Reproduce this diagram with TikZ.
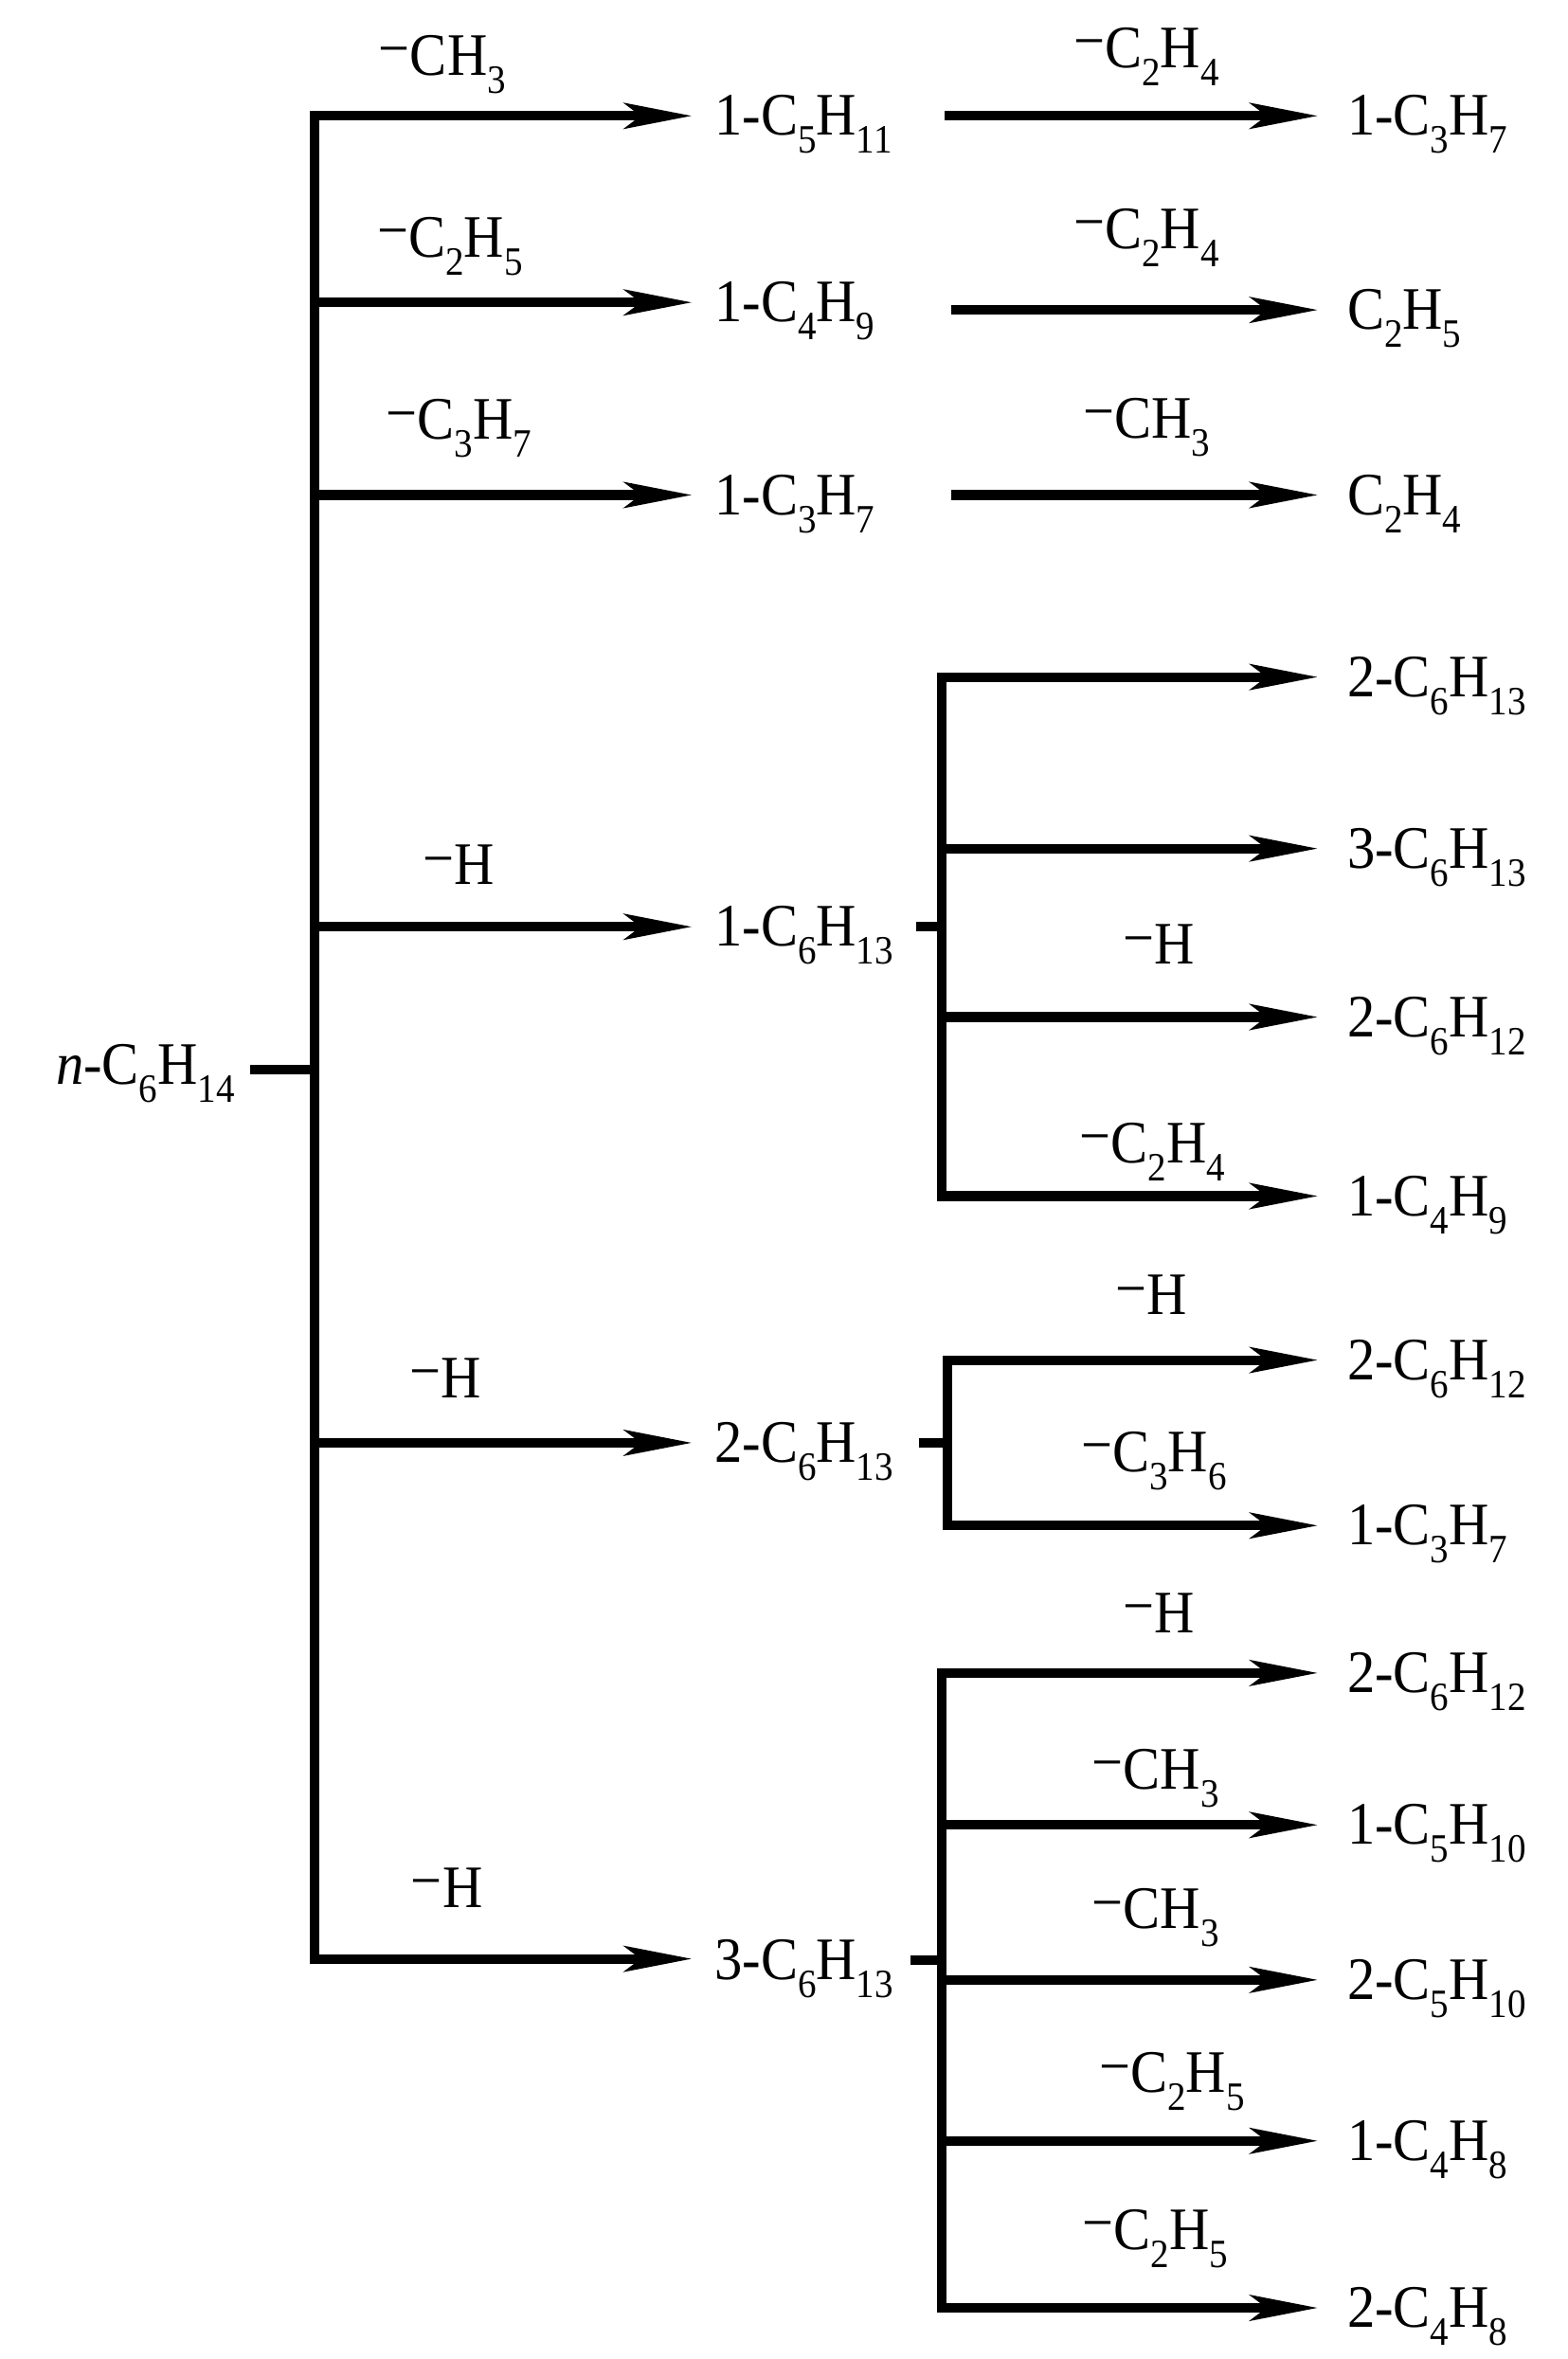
\documentclass[tikz,border=0pt]{standalone}
\usepackage{fontspec}
\setmainfont{Liberation Serif}[FakeStretch=0.92]
\usetikzlibrary{arrows.meta,positioning}
\newcommand{\dn}[1]{\raisebox{-3.4pt}{\fontsize{7.6}{8}\selectfont #1}}
\newcommand{\mi}{\raisebox{1.2pt}{−}}

\begin{document}
\begin{tikzpicture}[x=0.01cm,y=-0.01cm,>={Stealth[length=4.5mm,width=1.7mm,inset=1.1mm]},
		mol/.style={anchor=base west,inner sep=0pt,outer xsep=1.5mm,font=\fontsize{11.4}{12}\selectfont},
		prod/.style={mol,outer xsep=1.95mm},
		loss/.style={anchor=base,inner sep=0pt,font=\fontsize{11.4}{12}\selectfont},
		bond/.style={line width=1.8pt}]
		\useasboundingbox (0,0) rectangle (1042,1568);

		% parent and first generation
		\node[mol,anchor=base east,outer xsep=1mm] (nhex) at (166,721) {\textit{n}-C\dn{6}H\dn{14}};
		\node[mol]  (pent)  at (460,90)   {1-C\dn{5}H\dn{11}};
		\node[mol]  (but)   at (460,214)  {1-C\dn{4}H\dn{9}};
		\node[mol]  (prop)  at (460,342)  {1-C\dn{3}H\dn{7}};
		\node[mol]  (hexa)  at (460,629)  {1-C\dn{6}H\dn{13}};
		\node[mol]  (hexb)  at (460,972)  {2-C\dn{6}H\dn{13}};
		\node[mol]  (hexc)  at (460,1316) {3-C\dn{6}H\dn{13}};

		\coordinate (j0) at (209,711);
		\coordinate (j1) at (209,77);
		\coordinate (j2) at (209,201);
		\coordinate (j3) at (209,329);
		\coordinate (j4) at (209,616);
		\coordinate (j5) at (209,959);
		\coordinate (j6) at (209,1302);

		\draw[bond] (nhex.east |- j0) -- (j0);
		\draw[bond,<->] (j1 -| pent.west) -- (j1) -- (j6) -- (j6 -| hexc.west);
		\draw[bond,->] (j2) -- (j2 -| but.west);
		\draw[bond,->] (j3) -- (j3 -| prop.west);
		\draw[bond,->] (j4) -- (j4 -| hexa.west);
		\draw[bond,->] (j5) -- (j5 -| hexb.west);

		\node[loss] (l1) at (294,50)   {\mi CH\dn{3}};
		\node[loss] (l2) at (299,171)  {\mi C\dn{2}H\dn{5}};
		\node[loss] (l3) at (305,292)  {\mi C\dn{3}H\dn{7}};
		\node[loss] (l4) at (305,588)  {\mi H};
		\node[loss] (l5) at (296,929)  {\mi H};
		\node[loss] (l6) at (297,1268) {\mi H};

		% simple decompositions
		\node[prod] (pr1) at (876,90)  {1-C\dn{3}H\dn{7}};
		\node[prod] (pr2) at (876,219) {C\dn{2}H\dn{5}};
		\node[prod] (pr3) at (876,342) {C\dn{2}H\dn{4}};
		\coordinate (a1) at (628,77);
		\coordinate (a2) at (632,206);
		\coordinate (a3) at (632,329);
		\draw[bond,->] (a1) -- (a1 -| pr1.west);
		\draw[bond,->] (a2) -- (a2 -| pr2.west);
		\draw[bond,->] (a3) -- (a3 -| pr3.west);
		\node[loss] at (762,45)  {\mi C\dn{2}H\dn{4}};
		\node[loss] at (762,165) {\mi C\dn{2}H\dn{4}};
		\node[loss] at (762,291) {\mi CH\dn{3}};

		% 1-C6H13
		\node[prod] (qa1) at (876,463) {2-C\dn{6}H\dn{13}};
		\node[prod] (qa2) at (876,577) {3-C\dn{6}H\dn{13}};
		\node[prod] (qa3) at (876,689) {2-C\dn{6}H\dn{12}};
		\node[prod] (qa4) at (876,808) {1-C\dn{4}H\dn{9}};
		\coordinate (sa) at (609,616);
		\coordinate (ka0) at (626,616);
		\coordinate (ka1) at (626,450);
		\coordinate (ka2) at (626,564);
		\coordinate (ka3) at (626,676);
		\coordinate (ka4) at (626,795);
		\draw[bond] (sa) -- (ka0);
		\draw[bond,<->] (ka1 -| qa1.west) -- (ka1) -- (ka4) -- (ka4 -| qa4.west);
		\draw[bond,->] (ka2) -- (ka2 -| qa2.west);
		\draw[bond,->] (ka3) -- (ka3 -| qa3.west);
		\node[loss] at (770,641) {\mi H};
		\node[loss] at (766,773) {\mi C\dn{2}H\dn{4}};

		% 2-C6H13
		\node[prod] (qb1) at (876,917)  {2-C\dn{6}H\dn{12}};
		\node[prod] (qb2) at (876,1027) {1-C\dn{3}H\dn{7}};
		\coordinate (sb) at (611,959);
		\coordinate (kb0) at (630,959);
		\coordinate (kb1) at (630,904);
		\coordinate (kb2) at (630,1014);
		\draw[bond] (sb) -- (kb0);
		\draw[bond,<->] (kb1 -| qb1.west) -- (kb1) -- (kb2) -- (kb2 -| qb2.west);
		\node[loss] at (765,874) {\mi H};
		\node[loss] at (767,978) {\mi C\dn{3}H\dn{6}};

		% 3-C6H13
		\node[prod] (qc1) at (876,1125) {2-C\dn{6}H\dn{12}};
		\node[prod] (qc2) at (876,1226) {1-C\dn{5}H\dn{10}};
		\node[prod] (qc3) at (876,1329) {2-C\dn{5}H\dn{10}};
		\node[prod] (qc4) at (876,1436) {1-C\dn{4}H\dn{8}};
		\node[prod] (qc5) at (876,1547) {2-C\dn{4}H\dn{8}};
		\coordinate (sc) at (605,1303);
		\coordinate (kc0) at (626,1303);
		\coordinate (kc1) at (626,1112);
		\coordinate (kc2) at (626,1213);
		\coordinate (kc3) at (626,1316);
		\coordinate (kc4) at (626,1423);
		\coordinate (kc5) at (626,1534);
		\draw[bond] (sc) -- (kc0);
		\draw[bond,<->] (kc1 -| qc1.west) -- (kc1) -- (kc5) -- (kc5 -| qc5.west);
		\draw[bond,->] (kc2) -- (kc2 -| qc2.west);
		\draw[bond,->] (kc3) -- (kc3 -| qc3.west);
		\draw[bond,->] (kc4) -- (kc4 -| qc4.west);
		\node[loss] at (770,1085) {\mi H};
		\node[loss] at (768,1189) {\mi CH\dn{3}};
		\node[loss] at (768,1282) {\mi CH\dn{3}};
		\node[loss] at (779,1391) {\mi C\dn{2}H\dn{5}};
		\node[loss] at (768,1495) {\mi C\dn{2}H\dn{5}};
\end{tikzpicture}
\end{document}
